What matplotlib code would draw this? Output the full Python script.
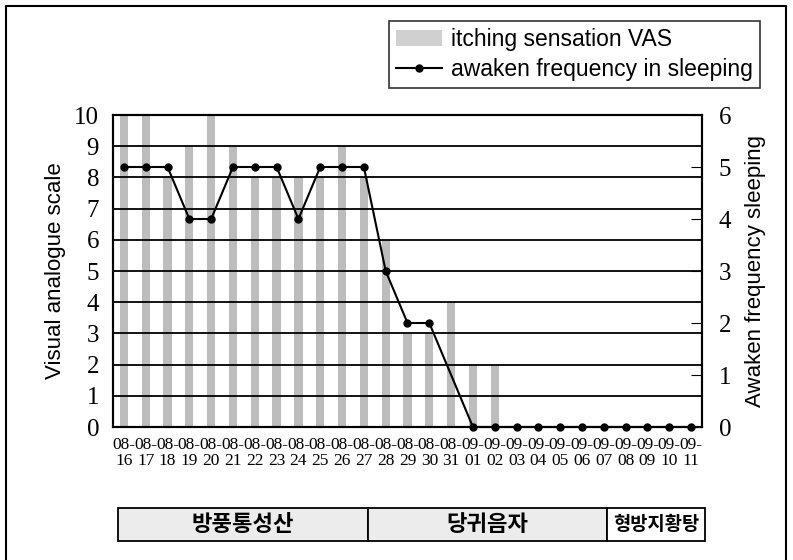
import numpy as np
import matplotlib
matplotlib.use("Agg")
import matplotlib.pyplot as plt
from matplotlib.patches import Rectangle, Patch
from matplotlib.lines import Line2D
import matplotlib.transforms as mtransforms

dates = ["08-16", "08-17", "08-18", "08-19", "08-20", "08-21", "08-22", "08-23",
         "08-24", "08-25", "08-26", "08-27", "08-28", "08-29", "08-30", "08-31",
         "09-01", "09-02", "09-03", "09-04", "09-05", "09-06", "09-07", "09-08",
         "09-09", "09-10", "09-11"]
vas = [10, 10, 8, 9, 10, 9, 8, 8, 8, 8, 9, 8, 6, 3, 3, 4, 2, 2, 0, 0, 0, 0, 0, 0, 0, 0, 0]
awaken = [5, 5, 5, 4, 4, 5, 5, 5, 4, 5, 5, 5, 3, 2, 2, None, 0, 0, 0, 0, 0, 0, 0, 0, 0, 0, 0]
treatments = ["방풍통성산", "당귀음자", "형방지황탕"]

W, H = 793, 560
fig = plt.figure(figsize=(W / 100, H / 100), dpi=100)
ax = fig.add_axes([113 / W, 1 - 427 / H, 589 / W, 312 / H])

x = np.arange(len(dates))
ax.bar(x, vas, width=0.38, color="#bdbdbd", zorder=1)
for v in range(1, 11):
    ax.axhline(v, color="black", lw=1.3, zorder=2)
ax.set_xlim(-0.5, len(dates) - 0.5)
ax.set_ylim(0, 10)
ax.set_yticks(range(0, 11))
ax.set_xticks(x)
ax.set_xticklabels([d.replace("-", "-\n") for d in dates],
                   fontfamily="Liberation Serif", fontsize=12.5, linespacing=1.05)
ax.tick_params(axis="x", length=0, pad=7)
ax.tick_params(axis="y", length=0, pad=10, labelsize=18)
for lab in ax.get_yticklabels():
    lab.set_fontfamily("Liberation Serif")
for s in ax.spines.values():
    s.set_linewidth(1.5)
ax.set_ylabel("Visual analogue scale", fontfamily="Liberation Sans", fontsize=16, labelpad=6)

ax2 = ax.twinx()
ax2.set_ylim(0, 6)
ax2.set_yticks(range(0, 7))
ax2.tick_params(axis="y", direction="in", length=8, pad=12, labelsize=18)
for lab in ax2.get_yticklabels():
    lab.set_fontfamily("Liberation Serif")
xs = [i for i, a in enumerate(awaken) if a is not None]
ys = [a for a in awaken if a is not None]
ax2.plot(xs, ys, color="black", lw=1.5, marker="o", ms=5, zorder=3, clip_on=False)
ax2.set_ylabel("Awaken frequency sleeping", fontfamily="Liberation Sans", fontsize=16,
               labelpad=10)
for s in ax2.spines.values():
    s.set_linewidth(1.5)

handles = [Patch(facecolor="#d0d0d0", edgecolor="none"),
           Line2D([0], [0], color="black", lw=1.5, marker="o", ms=5)]
leg = fig.legend(handles, ["itching sensation VAS", "awaken frequency in sleeping"],
                 loc="upper right", bbox_to_anchor=(760 / W, 1 - 21 / H),
                 prop={"family": "Liberation Sans", "size": 16.5}, fancybox=False,
                 frameon=True, edgecolor="black", borderpad=0.3, handlelength=2.0,
                 handletextpad=0.4, labelspacing=0.3, borderaxespad=0)
leg.get_frame().set_linewidth(1.2)

# treatment boxes under the x axis
trans = mtransforms.blended_transform_factory(ax.transData, fig.transFigure)
bounds = [-0.27, 11.2, 22.16, 26.66]
fills = ["#ececec", "#ececec", "white"]
sizes = [16, 16, 13.5]
y0, y1 = 1 - 541 / H, 1 - 508 / H
for i, name in enumerate(treatments):
    r = Rectangle((bounds[i], y0), bounds[i + 1] - bounds[i], y1 - y0, transform=trans,
                  facecolor=fills[i], edgecolor="black", lw=1.3, clip_on=False)
    fig.add_artist(r)
    fig.text((bounds[i] + bounds[i + 1]) / 2, (y0 + y1) / 2, name, transform=trans,
             fontfamily="Noto Sans CJK KR", fontweight="bold",
             fontsize=sizes[i], ha="center", va="center")

# outer frame
fig.add_artist(Line2D([6 / W, 6 / W, 786 / W, 786 / W], [-0.05, 1 - 6 / H, 1 - 6 / H, -0.05],
                      transform=fig.transFigure, color="black", lw=1.5))

fig.savefig("out.png", dpi=100)
